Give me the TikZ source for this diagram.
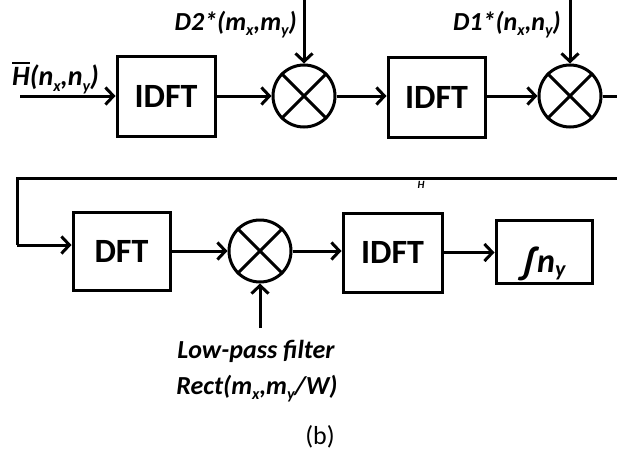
\documentclass[tikz,border=0pt]{standalone}
\usepackage{fontspec}
\setmainfont{Carlito}
\usetikzlibrary{arrows.meta}
\newcommand\sbs[1]{\raisebox{-0.45ex}{\fontsize{16}{16}\selectfont #1}}
\newcommand\ovl[1]{\setbox0\hbox{#1}\rlap{\raisebox{\dimexpr\ht0+3pt\relax}{\rule{\wd0}{1.6pt}}}\box0}
\begin{document}
\begin{tikzpicture}[x=1pt,y=-1pt,
  wire/.style={line width=3pt},
  arr/.style={wire,-{Straight Barb[length=8pt,width=17pt,line width=3pt]}},
  blk/.style={draw,line width=3pt,inner sep=0pt,font=\fontsize{34}{34}\selectfont\bfseries},
  mult/.style={draw,circle,line width=3pt,inner sep=0pt,minimum size=62pt},
  lbl/.style={inner sep=0pt,font=\fontsize{26}{30}\selectfont\bfseries\itshape}]
\useasboundingbox (0,0) rectangle (617,455);
% row 1
\node[blk,minimum width=98pt,minimum height=80pt] (b1) at (166,96) {IDFT};
\node[mult] (c1) at (304,96) {};
\node[blk,minimum width=97pt,minimum height=80pt] (b2) at (436.5,97) {IDFT};
\node[mult] (c2) at (570,96) {};
\coordinate (in) at (20,96);
\coordinate (d2) at (304,0);
\coordinate (d1) at (570,0);
\coordinate (out) at (617,96);
\node[lbl,anchor=base west,font=\fontsize{28}{30}\selectfont\bfseries\itshape] (hl) at (12,85) {\ovl{H}(n\sbs{x},n\sbs{y})};
\node[lbl,anchor=base east] (d2l) at (297,30) {D2*(m\sbs{x},m\sbs{y})};
\node[lbl,anchor=base east] (d1l) at (561,30) {D1*(n\sbs{x},n\sbs{y})};
\draw[arr] (in) -- (in -| b1.west);
\draw[arr] (b1.east |- c1) -- (c1.west);
\draw[arr] (d2) -- (c1.north);
\draw[arr] (c1.east) -- (c1.east -| b2.west);
\draw[arr] (b2.east |- c2) -- (c2.west);
\draw[arr] (d1) -- (c2.north);
\draw[wire] (c2.east) -- (out);
% row 2
\node[blk,minimum width=97pt,minimum height=78pt] (b3) at (121.5,251) {DFT};
\node[mult] (c3) at (260,251) {};
\node[blk,minimum width=99pt,minimum height=79pt] (b4) at (392.5,252.5) {IDFT};
\node[draw,line width=3pt,inner sep=0pt,minimum width=96pt,minimum height=63pt] (b5) at (544,251.5) {};
\node[inner sep=0pt,anchor=base west,font=\fontsize{34}{34}\selectfont\bfseries\itshape] (b5t) at (520,272) {{\fontsize{40}{40}\selectfont\raisebox{-2pt}{∫}}\hspace{2pt}n\raisebox{-0.3ex}{\fontsize{22}{22}\selectfont y}};
\coordinate (r) at (617,178);
\coordinate (l) at (17,178);
\coordinate (ld) at (17,245);
\coordinate (lp) at (260,328);
\draw[wire] (r) -- (l) -- (ld);
\draw[arr] (ld) -- (ld -| b3.west);
\draw[arr] (b3.east |- c3) -- (c3.west);
\draw[arr] (c3.east) -- (c3.east -| b4.west);
\draw[arr] (b4.east) -- (b4.east -| b5.west);
\draw[arr] (lp) -- (c3.south);
\foreach \c in {c1,c2,c3}{
  \draw[wire] (\c.north east) -- (\c.south west);
  \draw[wire] (\c.north west) -- (\c.south east);
}
\node[lbl,font=\fontsize{11}{11}\selectfont\bfseries\itshape] (sh) at (421,185) {H};
\node[lbl,anchor=base] (lpf) at (256,358) {Low-pass filter};
\node[lbl,anchor=base] (rect) at (257,394) {Rect(m\sbs{x},m\sbs{y}/W)};
\node[inner sep=0pt,font=\fontsize{26}{26}\selectfont] (cap) at (320,437) {(b)};
\end{tikzpicture}
\end{document}
